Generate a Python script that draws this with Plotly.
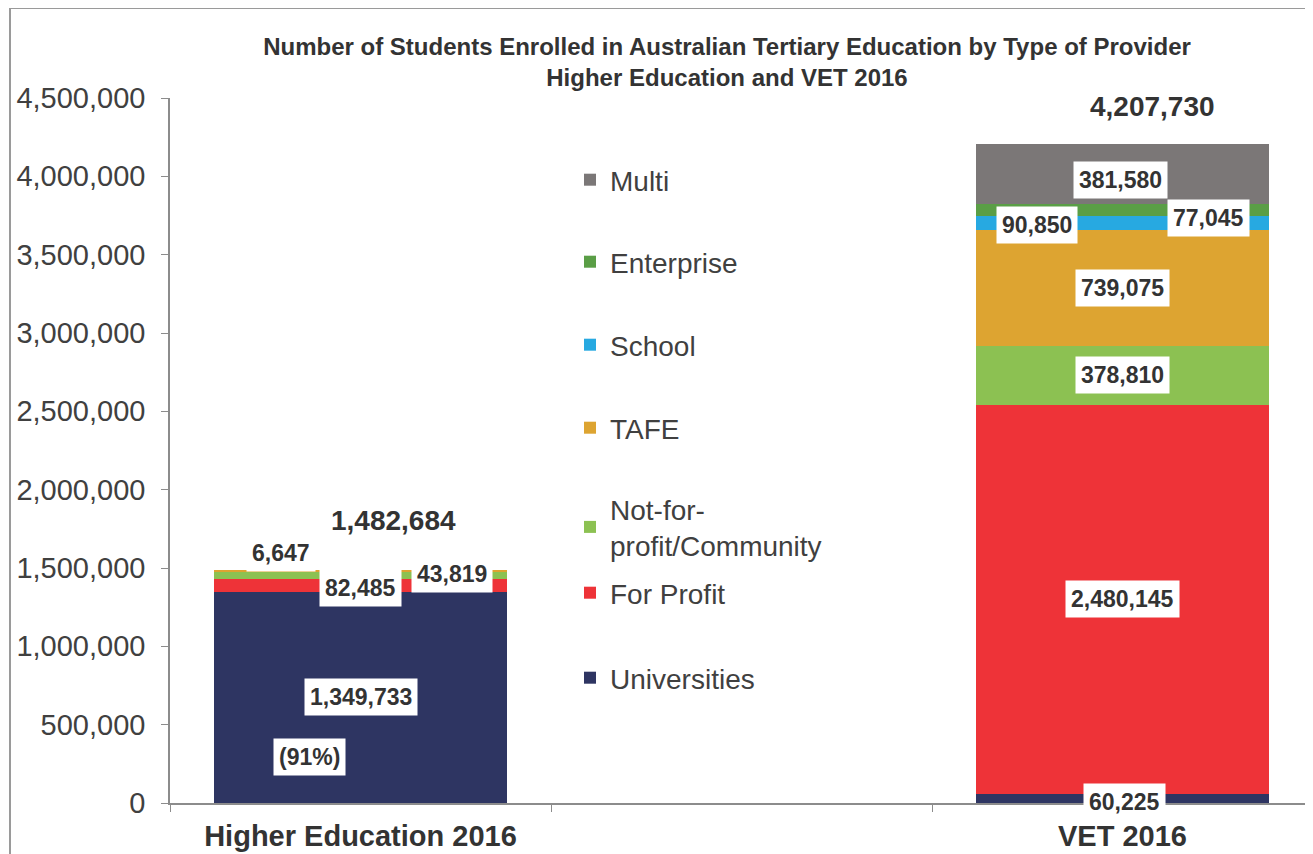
import plotly.graph_objects as go

categories = ["Higher Education 2016", " ", "VET 2016"]
bar_cats = ["Higher Education 2016", "VET 2016"]
series = ["Universities", "For Profit", "Not-for-profit/Community", "TAFE", "School", "Enterprise", "Multi"]
legend_names = ["Universities", "For Profit", "Not-for-<br>profit/Community", "TAFE", "School", "Enterprise", "Multi"]
he_values = [1349733, 82485, 43819, 6647, 0, 0, 0]
vet_values = [60225, 2480145, 378810, 739075, 90850, 77045, 381580]
colors = ["#2E3562", "#EE3338", "#8CC152", "#DDA431", "#27A9E1", "#5A9E46", "#7B7777"]
totals = [sum(he_values), sum(vet_values)]
y_ticks = [0, 500000, 1000000, 1500000, 2000000, 2500000, 3000000, 3500000, 4000000, 4500000]

# layout geometry (pixels); page shows the figure offset by the body margin
OFF = 8
W, H = 1313 - OFF, 854 - OFF
ML, MR, MT, MB = 170 - OFF, 0, 98 - OFF, H - (803 - OFF)
plot_w = W - ML - MR
plot_h = H - MT - MB

def px_x(px):
    return (px - OFF - ML) / plot_w

def px_y(py):
    return (H - MB - (py - OFF)) / plot_h

# legend centre rows (reference pixels from top)
legend_rows = [678, 593, 527, 428, 345, 262, 180]

fig = go.Figure()
for i, name in enumerate(series):
    lg = "legend" if i == 0 else f"legend{i+1}"
    fig.add_trace(go.Bar(
        x=bar_cats, y=[he_values[i], vet_values[i]], name=legend_names[i],
        marker=dict(color=colors[i], line=dict(width=0)), width=0.77,
        legend=lg, showlegend=True,
    ))

legend_cfg = {}
for i in range(len(series)):
    key = "legend" if i == 0 else f"legend{i+1}"
    legend_cfg[key] = dict(
        x=px_x(570), xanchor="left",
        y=px_y(legend_rows[i]), yanchor="middle",
        bgcolor="rgba(0,0,0,0)", borderwidth=0,
        font=dict(family="Liberation Sans, Arial", size=28, color="#404040"),
        valign="middle",
    )

# label annotations
ann = []
lab_font = dict(family="Liberation Sans, Arial", size=23, color="#333333")

def seg_mid(vals, k):
    return sum(vals[:k]) + vals[k] / 2.0

def box(xcat, yval, text, xshift=0, yshift=0):
    ann.append(dict(x=xcat, y=yval, xref="x", yref="y", text=f"<b>{text}</b>",
                    showarrow=False, bgcolor="white", borderpad=5,
                    font=lab_font, xshift=xshift, yshift=yshift))

# Higher education labels
box(0, seg_mid(he_values, 0), f"{he_values[0]:,}")
box(0, seg_mid(he_values, 0), "(91%)", xshift=-51, yshift=-60)
box(0, seg_mid(he_values, 1), f"{he_values[1]:,}", yshift=-3)
box(0, seg_mid(he_values, 2), f"{he_values[2]:,}", xshift=91, yshift=1)
box(0, seg_mid(he_values, 3), f"{he_values[3]:,}", xshift=-80, yshift=18)
# VET labels
box(2, seg_mid(vet_values, 0), f"{vet_values[0]:,}", xshift=2, yshift=-4)
for k in [1, 2, 3]:
    box(2, seg_mid(vet_values, k), f"{vet_values[k]:,}")
box(2, seg_mid(vet_values, 4), f"{vet_values[4]:,}", xshift=-86, yshift=-2)
box(2, seg_mid(vet_values, 5), f"{vet_values[5]:,}", xshift=86, yshift=-8)
box(2, seg_mid(vet_values, 6), f"{vet_values[6]:,}", xshift=-2, yshift=-6)

# totals
tot_font = dict(family="Liberation Sans, Arial", size=28, color="#333333")
ann.append(dict(x=0, y=totals[0], xref="x", yref="y", text=f"<b>{totals[0]:,}</b>",
                showarrow=False, font=tot_font, xshift=33, yshift=50))
ann.append(dict(x=2, y=totals[1], xref="x", yref="y", text=f"<b>{totals[1]:,}</b>",
                showarrow=False, font=tot_font, xshift=30, yshift=37))

fig.update_layout(
    width=W, height=H,
    margin=dict(l=ML, r=MR, t=MT, b=MB),
    paper_bgcolor="white", plot_bgcolor="white",
    barmode="stack", bargap=0.23,
    title=dict(
        text="<b>Number of Students Enrolled in Australian Tertiary Education by Type of Provider<br>Higher Education and VET 2016</b>",
        x=px_x(727), xref="paper", xanchor="center",
        y=1 - (55 - OFF) / H, yref="container", yanchor="middle",
        font=dict(family="Liberation Sans, Arial", size=24, color="#333333"),
    ),
    xaxis=dict(
        type="category", categoryorder="array", categoryarray=categories,
        range=[-0.5, 2.5], tickson="boundaries", ticks="outside", ticklen=7,
        tickcolor="#8c8c8c", showline=True, linecolor="#8c8c8c", linewidth=1.5,
        showgrid=False, zeroline=False, ticklabelstandoff=6,
        tickfont=dict(family="Liberation Sans, Arial", size=29, color="#333333"),
        tickvals=categories, ticktext=["<b>Higher Education 2016</b>", " ", "<b>VET 2016</b>"],
    ),
    yaxis=dict(
        range=[0, 4500000], tickvals=y_ticks, tickformat=",", ticks="outside", ticklen=7,
        tickcolor="#8c8c8c", showline=True, linecolor="#8c8c8c", linewidth=1.5,
        showgrid=False, zeroline=False, ticklabelstandoff=10,
        tickfont=dict(family="Liberation Sans, Arial", size=29, color="#404040"),
    ),
    annotations=ann,
    shapes=[dict(type="rect", xref="paper", yref="paper",
                 x0=px_x(10), x1=1.05,
                 y0=-0.2, y1=px_y(8),
                 line=dict(color="#9a9a9a", width=2), fillcolor="rgba(0,0,0,0)", layer="below")],
    **legend_cfg,
)

fig.write_html("out.html")
